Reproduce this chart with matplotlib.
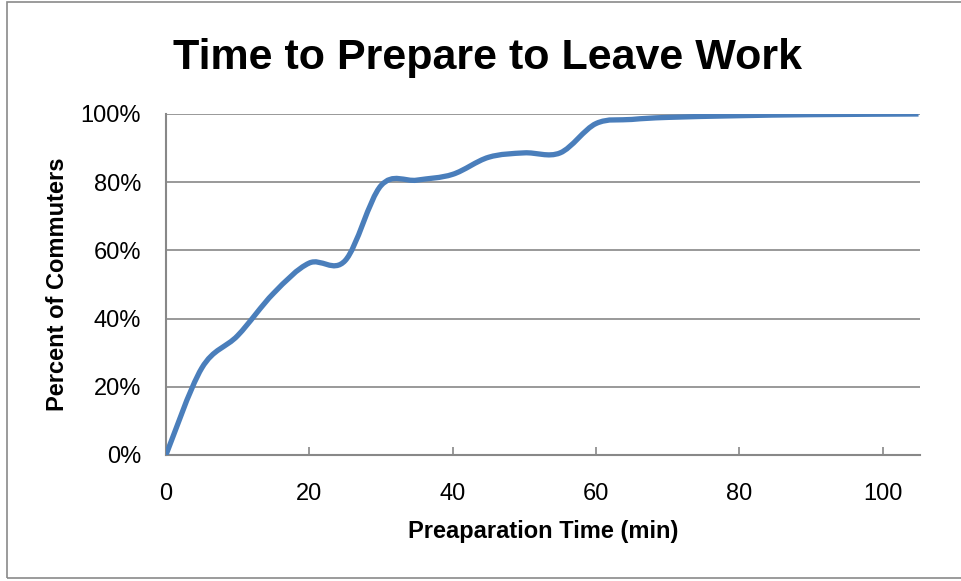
import matplotlib
matplotlib.use("Agg")
import matplotlib.pyplot as plt
import numpy as np
from matplotlib.path import Path
from matplotlib.patches import PathPatch, Rectangle
from matplotlib.ticker import PercentFormatter

plt.rcParams['font.family'] = ['Liberation Sans', 'DejaVu Sans']

# cumulative share of commuters ready to leave, by preparation time
prep_min = [0, 5, 10, 15, 20, 25, 30, 35, 40, 45, 50, 55, 60, 65, 70, 80, 90, 105]
pct_ready = [0, 25.5, 35, 47.4, 56.3, 57.0, 79.0, 80.6, 82.3, 87.3, 88.6, 88.6,
             97.2, 98.4, 99.0, 99.5, 99.8, 100]

x_ticks = [0, 20, 40, 60, 80, 100]
y_ticks = [0, 20, 40, 60, 80, 100]

line_col = '#4a7ebb'
grid_col = '#888888'


def smooth_path(xs, ys):
    # spreadsheet-style smoothed line: cubic bezier through every point
    pts = np.column_stack([xs, ys]).astype(float)
    n = len(pts)
    verts = [pts[0]]
    codes = [Path.MOVETO]
    for i in range(n - 1):
        p0 = pts[i - 1] if i > 0 else pts[i]
        p1 = pts[i]
        p2 = pts[i + 1]
        p3 = pts[i + 2] if i + 2 < n else pts[i + 1]
        c1 = p1 + (p2 - p0) / 6.0
        c2 = p2 - (p3 - p1) / 6.0
        verts += [c1, c2, p2]
        codes += [Path.CURVE4] * 3
    return Path(verts, codes)


fig = plt.figure(figsize=(9.61, 5.81), dpi=100)
fig.patches.append(Rectangle((0.0078, 0.006), 1.2, 0.99, transform=fig.transFigure,
                             fill=False, edgecolor='#8a8a8a', linewidth=1.2))

ax = fig.add_axes([0.1727, 0.2169, 0.7846, 0.5869])
ax.add_patch(PathPatch(smooth_path(prep_min, pct_ready), fill=False,
                       edgecolor=line_col, linewidth=3.8, capstyle='butt',
                       joinstyle='round', zorder=3))

ax.set_xlim(0, 105.2)
ax.set_ylim(0, 100)
ax.set_xticks(x_ticks)
ax.set_yticks(y_ticks)
ax.yaxis.set_major_formatter(PercentFormatter(decimals=0))

ax.grid(axis='y', color=grid_col, linewidth=1.2)
ax.set_axisbelow(True)
for side in ['top', 'right']:
    ax.spines[side].set_visible(False)
for side in ['left', 'bottom']:
    ax.spines[side].set_color(grid_col)
    ax.spines[side].set_linewidth(1.5)

ax.tick_params(axis='x', direction='in', length=6, width=1.2, color=grid_col,
               labelsize=17, pad=20)
ax.tick_params(axis='y', length=0, labelsize=17, pad=18)

ax.set_xlabel('Preaparation Time (min)', fontsize=17, fontweight='bold', labelpad=11)
ax.set_ylabel('Percent of Commuters', fontsize=17, fontweight='bold', labelpad=8)
fig.suptitle('Time to Prepare to Leave Work', x=0.507, y=0.935, fontsize=31,
             fontweight='bold')

fig.savefig('out.png', dpi=100)
